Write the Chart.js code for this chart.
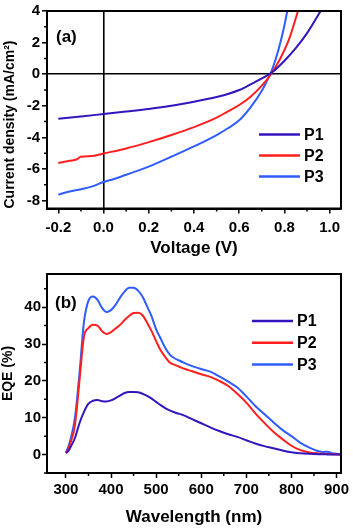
<!DOCTYPE html>
<html>
<head>
<meta charset="utf-8">
<script src="https://cdn.jsdelivr.net/npm/chart.js@4.4.0/dist/chart.umd.min.js"></script>
<style>
  body { margin: 0; background: #fff; }
  #wrap { position: relative; width: 353px; height: 528px; }
  canvas { position: absolute; left: 0; }
  #jvChart { top: 0; }
  #eqeChart { top: 262px; }
</style>
</head>
<body>
<div id="wrap">
  <canvas id="jvChart" width="353" height="262"></canvas>
  <canvas id="eqeChart" width="353" height="266"></canvas>
</div>
<script>
// series names
const seriesNames = ['P1', 'P2', 'P3'];

// (a) current density vs voltage
const p1Voltage = [-0.2, -0.1, 0.0, 0.1, 0.2, 0.3, 0.4, 0.5, 0.55, 0.6, 0.65, 0.7, 0.75, 0.8, 0.85, 0.9, 0.96];
const p1Current = [-2.82, -2.68, -2.52, -2.36, -2.2, -2.0, -1.74, -1.44, -1.25, -1.0, -0.65, -0.27, 0.17, 0.85, 1.65, 2.6, 4.0];

const p2Voltage = [-0.2, -0.15, -0.12, -0.1, -0.05, 0.0, 0.1, 0.2, 0.3, 0.4, 0.5, 0.55, 0.6, 0.65, 0.7, 0.74, 0.78, 0.82, 0.86];
const p2Current = [-5.62, -5.48, -5.4, -5.22, -5.18, -5.02, -4.7, -4.3, -3.85, -3.35, -2.75, -2.35, -1.95, -1.42, -0.72, 0.0, 0.95, 2.2, 4.0];

const p3Voltage = [-0.2, -0.15, -0.1, -0.05, 0.0, 0.05, 0.1, 0.2, 0.3, 0.4, 0.5, 0.55, 0.6, 0.65, 0.7, 0.72, 0.74, 0.76, 0.78, 0.8, 0.815];
const p3Current = [-7.62, -7.42, -7.28, -7.1, -6.82, -6.62, -6.36, -5.85, -5.22, -4.57, -3.85, -3.42, -2.92, -2.1, -1.05, -0.5, 0.1, 0.9, 1.9, 3.1, 4.2];

const voltTicks = [-0.2, 0.0, 0.2, 0.4, 0.6, 0.8, 1.0];
const currentTicks = [-8, -6, -4, -2, 0, 2, 4];

// (b) EQE spectra
const wavelength = [300, 305, 310, 320, 330, 340, 350, 360, 370, 380, 390, 400, 410, 420, 430, 440, 450, 460, 470, 480, 490, 500,
  510, 520, 530, 540, 550, 560, 580, 600, 620, 640, 660, 680, 700, 720, 740, 760, 780, 800, 820, 840, 860, 870, 880, 890, 900, 910];
const p1Eqe = [0.4, 0.9, 2.0, 4.5, 8.5, 11.6, 13.8, 14.6, 14.8, 14.5, 14.4, 14.7, 15.3, 16.0, 16.7, 17.0, 17.0, 16.9, 16.5, 15.9, 15.2, 14.3,
  13.4, 12.6, 12.0, 11.5, 11.1, 10.7, 9.6, 8.5, 7.4, 6.4, 5.5, 4.8, 3.9, 3.0, 2.3, 1.7, 1.1, 0.6, 0.35, 0.2, 0.1, 0.07, 0.05, 0.03, 0.02, 0.0];
const p2Eqe = [0.4, 1.5, 3.2, 8.0, 20.0, 32.0, 34.3, 35.2, 35.0, 33.5, 32.7, 33.2, 34.2, 35.2, 36.5, 37.6, 38.4, 38.5, 37.8, 35.8, 33.5, 30.8,
  28.3, 26.5, 25.0, 24.4, 23.9, 23.4, 22.6, 21.8, 21.1, 20.0, 18.6, 16.5, 14.1, 11.2, 8.6, 6.2, 4.2, 2.4, 1.2, 0.6, 0.3, 0.2, 0.15, 0.1, 0.05, 0.0];
const p3Eqe = [0.6, 2.0, 4.0, 10.0, 22.0, 36.0, 41.8, 42.9, 42.0, 39.8, 38.7, 39.2, 40.6, 42.6, 44.2, 45.3, 45.3, 44.5, 42.8, 40.2, 37.5, 34.0,
  31.5, 29.0, 27.2, 26.2, 25.6, 25.0, 24.0, 23.2, 22.5, 21.2, 19.8, 18.2, 15.8, 13.2, 11.0, 8.8, 6.7, 5.0, 3.2, 1.9, 0.9, 0.7, 0.8, 0.4, 0.2, 0.1];

const wlTicks = [300, 400, 500, 600, 700, 800, 900];
const eqeTicks = [0, 10, 20, 30, 40];

const lineColors = ['#3414bd', '#ff1f1f', '#2f5cff'];
const fontFamily = '"Liberation Sans", Arial, sans-serif';

function pairs(xs, ys) {
    return xs.map((x, i) => ({ x: x, y: ys[i] }));
}

function makeDataset(i, points) {
    return {
        label: seriesNames[i],
        data: points,
        borderColor: lineColors[i],
        borderWidth: 2,
        pointRadius: 0,
        fill: false,
        cubicInterpolationMode: 'monotone'
    };
}

// box around the plot + minor ticks half way between the major ones
const frameBox = {
    id: 'frameBox',
    afterDraw(chart) {
        const ctx = chart.ctx;
        const a = chart.chartArea;
        const xs = chart.scales.x;
        const ys = chart.scales.y;
        ctx.save();
        ctx.strokeStyle = '#000';
        ctx.lineWidth = 1.5;
        ctx.beginPath();
        const xt = xs.ticks.map(t => t.value);
        const step = xt[1] - xt[0];
        for (let v = xt[0] - step / 2; v <= xs.max; v += step) {
            if (v < xs.min) continue;
            const px = xs.getPixelForValue(v);
            ctx.moveTo(px, a.bottom);
            ctx.lineTo(px, a.bottom + 3);
        }
        const yt = ys.ticks.map(t => t.value);
        const ystep = yt[1] - yt[0];
        for (let v = yt[0] - ystep / 2; v <= ys.max; v += ystep) {
            if (v < ys.min) continue;
            const py = ys.getPixelForValue(v);
            ctx.moveTo(a.left, py);
            ctx.lineTo(a.left - 3, py);
        }
        ctx.stroke();
        ctx.lineWidth = 2;
        ctx.strokeRect(a.left, a.top, a.right - a.left, a.bottom - a.top);
        ctx.restore();
    }
};

// panel tag and the little legend inside the plot
const insideText = {
    id: 'insideText',
    afterDraw(chart, args, opts) {
        const ctx = chart.ctx;
        const a = chart.chartArea;
        ctx.save();
        ctx.fillStyle = '#000';
        ctx.textBaseline = 'middle';
        ctx.font = 'bold 17px ' + fontFamily;
        ctx.fillText(opts.tag, a.left + opts.tagX, a.top + opts.tagY);
        ctx.font = 'bold 16px ' + fontFamily;
        chart.data.datasets.forEach((ds, i) => {
            const y = a.top + opts.keyY + i * opts.keyGap;
            const x0 = a.right - opts.keyRight;
            ctx.strokeStyle = ds.borderColor;
            ctx.lineWidth = 2.5;
            ctx.beginPath();
            ctx.moveTo(x0, y);
            ctx.lineTo(x0 + 41, y);
            ctx.stroke();
            ctx.fillText(ds.label, x0 + 45, y + 1);
        });
        ctx.restore();
    }
};

function axisFont(size) {
    return { family: fontFamily, size: size, weight: 'bold' };
}

function zeroLine(c) {
    return c.tick && c.tick.value === 0 ? '#000' : 'rgba(0,0,0,0)';
}

// (a) J-V curves
new Chart(document.getElementById('jvChart'), {
    type: 'line',
    data: {
        datasets: [
            makeDataset(0, pairs(p1Voltage, p1Current)),
            makeDataset(1, pairs(p2Voltage, p2Current)),
            makeDataset(2, pairs(p3Voltage, p3Current))
        ]
    },
    options: {
        responsive: false,
        animation: false,
        layout: { padding: { left: 0, right: 12, top: 9, bottom: 0 } },
        plugins: {
            legend: { display: false },
            tooltip: { enabled: false },
            insideText: { tag: '(a)', tagX: 9, tagY: 26, keyRight: 82, keyY: 123.5, keyGap: 21 }
        },
        scales: {
            x: {
                type: 'linear',
                min: -0.25,
                max: 1.05,
                afterBuildTicks: s => { s.ticks = voltTicks.map(v => ({ value: v })); },
                afterFit: s => { s.height = 53.5; },
                grid: { color: zeroLine, lineWidth: 1.6, tickLength: 5, tickColor: '#000', tickWidth: 1.5 },
                border: { display: true, color: '#000', width: 2 },
                ticks: { color: '#000', font: axisFont(15), padding: 5, maxRotation: 0, callback: v => v.toFixed(1) },
                title: { display: true, text: 'Voltage (V)', color: '#000', font: axisFont(17), padding: { top: 0, bottom: 3.8 } }
            },
            y: {
                min: -8.5,
                max: 4,
                afterBuildTicks: s => { s.ticks = currentTicks.map(v => ({ value: v })); },
                afterFit: s => { s.width = 47; },
                grid: { color: zeroLine, lineWidth: 1.6, tickLength: 5, tickColor: '#000', tickWidth: 1.5 },
                border: { display: true, color: '#000', width: 2 },
                ticks: { color: '#000', font: axisFont(15), padding: 2 },
                title: { display: true, text: 'Current density (mA/cm²)', align: 'start', color: '#000', font: axisFont(14), padding: { top: 1.6, bottom: 0 } }
            }
        }
    },
    plugins: [frameBox, insideText]
});

// (b) EQE
new Chart(document.getElementById('eqeChart'), {
    type: 'line',
    data: {
        datasets: [
            makeDataset(0, pairs(wavelength, p1Eqe)),
            makeDataset(1, pairs(wavelength, p2Eqe)),
            makeDataset(2, pairs(wavelength, p3Eqe))
        ]
    },
    options: {
        responsive: false,
        animation: false,
        layout: { padding: { left: 0, right: 12, top: 12, bottom: 0 } },
        plugins: {
            legend: { display: false },
            tooltip: { enabled: false },
            insideText: { tag: '(b)', tagX: 8, tagY: 29, keyRight: 89, keyY: 47, keyGap: 21.8 }
        },
        scales: {
            x: {
                type: 'linear',
                min: 258,
                max: 910,
                afterBuildTicks: s => { s.ticks = wlTicks.map(v => ({ value: v })); },
                afterFit: s => { s.height = 55; },
                grid: { display: true, drawOnChartArea: false, tickLength: 5, tickColor: '#000', tickWidth: 1.5 },
                border: { display: true, color: '#000', width: 2 },
                ticks: { color: '#000', font: axisFont(15), padding: 3, maxRotation: 0 },
                title: { display: true, text: 'Wavelength (nm)', color: '#000', font: axisFont(17), padding: { top: 0, bottom: 0.8 } }
            },
            y: {
                min: -5,
                max: 49,
                afterBuildTicks: s => { s.ticks = eqeTicks.map(v => ({ value: v })); },
                afterFit: s => { s.width = 47; },
                grid: { display: true, drawOnChartArea: false, tickLength: 5, tickColor: '#000', tickWidth: 1.5 },
                border: { display: true, color: '#000', width: 2 },
                ticks: { color: '#000', font: axisFont(15), padding: 1 },
                title: { display: true, text: 'EQE (%)', color: '#000', font: axisFont(14), padding: { top: 0, bottom: 0 } }
            }
        }
    },
    plugins: [frameBox, insideText]
});
</script>
</body>
</html>
